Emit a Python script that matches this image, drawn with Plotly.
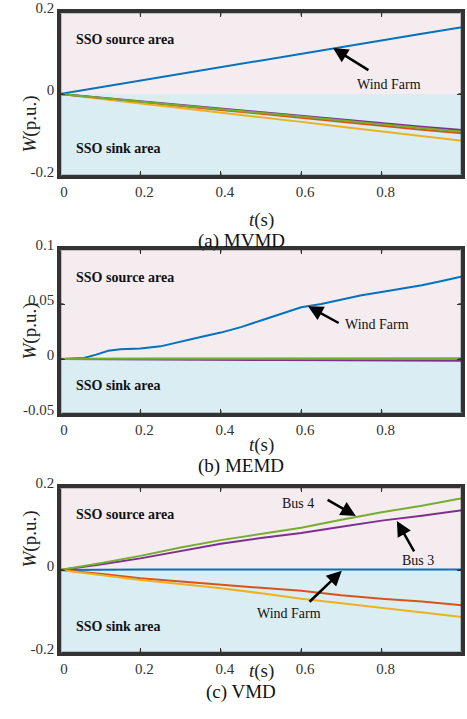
import plotly.graph_objects as go

# ---------------- data ----------------
t = [0, 0.1, 0.2, 0.3, 0.4, 0.5, 0.6, 0.7, 0.8, 0.9, 1.0]

# (a) MVMD
a_wind = [0, 0.0165, 0.033, 0.049, 0.066, 0.082, 0.098, 0.115, 0.131, 0.147, 0.163]
a_red = [0, -0.010, -0.020, -0.030, -0.039, -0.048, -0.058, -0.068, -0.077, -0.087, -0.096]
a_yellow = [0, -0.012, -0.023, -0.034, -0.045, -0.057, -0.068, -0.080, -0.091, -0.103, -0.114]
a_purple = [0, -0.009, -0.018, -0.027, -0.036, -0.045, -0.054, -0.063, -0.071, -0.080, -0.088]
a_green = [0, -0.0095, -0.019, -0.028, -0.037, -0.046, -0.055, -0.065, -0.074, -0.083, -0.092]

# (b) MEMD
tb = [0, 0.03, 0.06, 0.09, 0.12, 0.15, 0.2, 0.25, 0.3, 0.35, 0.4, 0.45, 0.5,
      0.55, 0.6, 0.65, 0.7, 0.75, 0.8, 0.85, 0.9, 0.95, 1.0]
b_wind = [0, 0.0002, 0.001, 0.004, 0.0075, 0.0088, 0.0095, 0.0115, 0.016, 0.020,
          0.024, 0.029, 0.035, 0.041, 0.047, 0.050, 0.054, 0.058, 0.061, 0.064,
          0.067, 0.071, 0.075]
b_red = [0, 0.0001, 0.0001, 0.0002, 0.0002, 0.0002, 0.0002, 0.0003, 0.0003, 0.0003,
         0.0003, 0.0004, 0.0004, 0.0004, 0.0005, 0.0005, 0.0005, 0.0005, 0.0005,
         0.0005, 0.0004, 0.0004, 0.0004]
b_yellow = [0, 0.0001, 0.0001, 0.0001, 0.0002, 0.0002, 0.0002, 0.0002, 0.0002, 0.0002,
            0.0002, 0.0002, 0.0002, 0.0002, 0.0002, 0.0002, 0.0002, 0.0002, 0.0002,
            0.0002, 0.0002, 0.0002, 0.0002]
b_purple = [0, -0.0001, -0.0002, -0.0003, -0.0004, -0.0005, -0.0006, -0.0007, -0.0008,
            -0.0009, -0.0009, -0.0009, -0.0010, -0.0010, -0.0010, -0.0010, -0.0010,
            -0.0011, -0.0011, -0.0014, -0.0015, -0.0015, -0.0015]
b_green = [0, 0.0002, 0.0002, 0.0002, 0.0002, 0.0002, 0.0002, 0.0002, 0.0002, 0.0002,
           0.0002, 0.0002, 0.0002, 0.0002, 0.0002, 0.0002, 0.0002, 0.0002, 0.0002,
           0.0002, 0.0002, 0.0002, 0.0002]

# (c) VMD
c_wind = [0, 0.001, 0.001, 0.001, 0.001, 0.001, 0.001, 0.001, 0.001, 0.001, 0.001]
c_red = [0, -0.009, -0.020, -0.028, -0.036, -0.043, -0.050, -0.061, -0.069, -0.076, -0.085]
c_yellow = [0, -0.012, -0.024, -0.034, -0.044, -0.056, -0.069, -0.080, -0.091, -0.101, -0.113]
c_bus3 = [0, 0.013, 0.028, 0.046, 0.063, 0.077, 0.089, 0.104, 0.119, 0.131, 0.144]
c_bus4 = [0, 0.016, 0.034, 0.054, 0.072, 0.087, 0.102, 0.121, 0.139, 0.155, 0.173]

x_ticks = [0, 0.2, 0.4, 0.6, 0.8, 1]
x_ticklabels = ["0", "0.2", "0.4", "0.6", "0.8", "1"]
ya_ticks = [-0.2, 0, 0.2]
ya_labels = ["-0.2", "0", "0.2"]
yb_ticks = [-0.05, 0, 0.05, 0.1]
yb_labels = ["-0.05", "0", "0.05", "0.1"]
captions = ["(a) MVMD", "(b) MEMD", "(c) VMD"]

# ---------------- styling ----------------
W, H = 467, 719
BLUE, RED, YEL, PUR, GRN = "#0072BD", "#D95319", "#EDB120", "#7E2F8E", "#77AC30"
PINK, LBLUE = "#F5ECF0", "#DAEDF3"
FONT = "Liberation Serif"
FRAME = "#333333"

# panel pixel boxes (top, bottom)
boxes = [(12, 176), (249, 414), (487, 653)]
xl, xr = 60, 462

panels = [
    dict(x=t, series=[(a_wind, BLUE), (a_red, RED), (a_yellow, YEL), (a_purple, PUR), (a_green, GRN)],
         yr=[-0.2, 0.2], yt=ya_ticks, yl=ya_labels),
    dict(x=tb, series=[(b_wind, BLUE), (b_red, RED), (b_yellow, YEL), (b_purple, PUR), (b_green, GRN)],
         yr=[-0.05, 0.1], yt=yb_ticks, yl=yb_labels),
    dict(x=t, series=[(c_wind, BLUE), (c_red, RED), (c_yellow, YEL), (c_bus3, PUR), (c_bus4, GRN)],
         yr=[-0.2, 0.2], yt=ya_ticks, yl=ya_labels),
]

fig = go.Figure()
annotations = []
layout_axes = {}


def seg(xa, ya, x0, y0, x1, y1, width, color=FRAME):
    annotations.append(dict(x=x1, y=y1, ax=x0, ay=y0, xref=xa, yref=ya, axref=xa, ayref=ya,
                            text="", showarrow=True, arrowhead=0, arrowwidth=width,
                            arrowcolor=color, standoff=0, startstandoff=0))


def tick(xa, ya, x, y, dx, dy):
    annotations.append(dict(x=x, y=y, ax=dx, ay=dy, xref=xa, yref=ya, axref="pixel",
                            ayref="pixel", text="", showarrow=True, arrowhead=0,
                            arrowwidth=1.3, arrowcolor=FRAME, standoff=0, startstandoff=0))


for i, p in enumerate(panels):
    n = "" if i == 0 else str(i + 1)
    xa, ya = "x" + n, "y" + n
    top, bot = boxes[i]
    lo, hi = p["yr"]
    # background areas as filled traces
    fig.add_trace(go.Scatter(x=[0, 1, 1, 0, 0], y=[0, 0, hi, hi, 0], mode="lines",
                             fill="toself", fillcolor=PINK, line=dict(width=0),
                             xaxis=xa, yaxis=ya, showlegend=False, hoverinfo="skip"))
    fig.add_trace(go.Scatter(x=[0, 1, 1, 0, 0], y=[lo, lo, 0, 0, lo], mode="lines",
                             fill="toself", fillcolor=LBLUE, line=dict(width=0),
                             xaxis=xa, yaxis=ya, showlegend=False, hoverinfo="skip"))
    for vals, col in p["series"]:
        fig.add_trace(go.Scatter(x=p["x"], y=vals, mode="lines", xaxis=xa, yaxis=ya,
                                 line=dict(color=col, width=2), showlegend=False,
                                 hoverinfo="skip"))
    common = dict(showline=True, linecolor=FRAME, linewidth=2.5, mirror="ticks",
                  ticks="inside", ticklen=5, tickwidth=1.3, tickcolor=FRAME,
                  showgrid=False, zeroline=False,
                  tickfont=dict(family=FONT, size=15, color="#333333"))
    layout_axes["xaxis" + n] = dict(common, domain=[xl / W, xr / W], range=[0, 1],
                                    anchor=ya, tickmode="array", tickvals=x_ticks,
                                    ticktext=x_ticklabels, ticklabelshift=4)
    layout_axes["yaxis" + n] = dict(common, domain=[1 - bot / H, 1 - top / H],
                                    range=[lo, hi], anchor=xa, tickmode="array",
                                    tickvals=p["yt"], ticktext=p["yl"], ticklabelshift=-4)
    # frame (as line annotations) and inside tick marks on all four sides
    seg(xa, ya, 0, lo, 1, lo, 2.5)
    seg(xa, ya, 1, lo, 1, hi, 2.5)
    seg(xa, ya, 1, hi, 0, hi, 2.5)
    seg(xa, ya, 0, hi, 0, lo, 2.5)
    for tv in x_ticks[1:-1]:
        tick(xa, ya, tv, lo, 0, -5)
        tick(xa, ya, tv, hi, 0, 5)
    for tv in p["yt"]:
        if lo < tv < hi:
            tick(xa, ya, 0, tv, 5, 0)
            tick(xa, ya, 1, tv, -5, 0)
    # area labels
    src_y = {0: 0.134, 1: 0.0745, 2: 0.133}[i]
    sink_y = {0: -0.134, 1: -0.0245, 2: -0.135}[i]
    annotations.append(dict(x=0.035, y=src_y, xref=xa, yref=ya, xanchor="left", yanchor="middle",
                            text="<b>SSO source area</b>", showarrow=False,
                            font=dict(family=FONT, size=14, color="#111111")))
    annotations.append(dict(x=0.035, y=sink_y, xref=xa, yref=ya, xanchor="left", yanchor="middle",
                            text="<b>SSO sink area</b>", showarrow=False,
                            font=dict(family=FONT, size=14, color="#111111")))
    # axis titles and caption
    cy = (top + bot) / 2
    annotations.append(dict(x=16 / W, y=1 - cy / H, xref="paper", yref="paper",
                            text="<i>W</i>(p.u.)", textangle=-90, showarrow=False,
                            font=dict(family=FONT, size=19, color="#222222")))
    annotations.append(dict(x=261 / W, y=1 - (bot + 31) / H, xref="paper", yref="paper",
                            text="<i>t</i>(s)", showarrow=False,
                            font=dict(family=FONT, size=19, color="#222222")))
    annotations.append(dict(x=241 / W, y=1 - (bot + 52) / H, xref="paper", yref="paper",
                            text=captions[i], showarrow=False,
                            font=dict(family=FONT, size=19, color="#111111")))

# arrows + labels
def arrow(xa, ya, x0, y0, x1, y1):
    annotations.append(dict(x=x1, y=y1, ax=x0, ay=y0, xref=xa, yref=ya, axref=xa, ayref=ya,
                            text="", showarrow=True, arrowhead=2, arrowsize=1.2,
                            arrowwidth=2.5, arrowcolor="black", standoff=0, startstandoff=0))

def label(xa, ya, x, y, s):
    annotations.append(dict(x=x, y=y, xref=xa, yref=ya, text=s, showarrow=False,
                            font=dict(family=FONT, size=14, color="#111111")))

arrow("x", "y", 0.771, 0.056, 0.679, 0.112)
label("x", "y", 0.819, 0.024, "Wind Farm")
arrow("x2", "y2", 0.697, 0.032, 0.617, 0.048)
label("x2", "y2", 0.789, 0.031, "Wind Farm")
arrow("x3", "y3", 0.662, 0.171, 0.736, 0.130)
label("x3", "y3", 0.592, 0.161, "Bus 4")
arrow("x3", "y3", 0.883, 0.041, 0.838, 0.118)
label("x3", "y3", 0.891, 0.024, "Bus 3")
arrow("x3", "y3", 0.617, -0.080, 0.701, -0.002)
label("x3", "y3", 0.570, -0.104, "Wind Farm")

fig.update_layout(template="none", width=W, height=H, margin=dict(l=0, r=0, t=0, b=0),
                  paper_bgcolor="white", plot_bgcolor="white",
                  font=dict(family=FONT, color="#222222"),
                  annotations=annotations, showlegend=False, **layout_axes)

fig.write_html("out.html")
